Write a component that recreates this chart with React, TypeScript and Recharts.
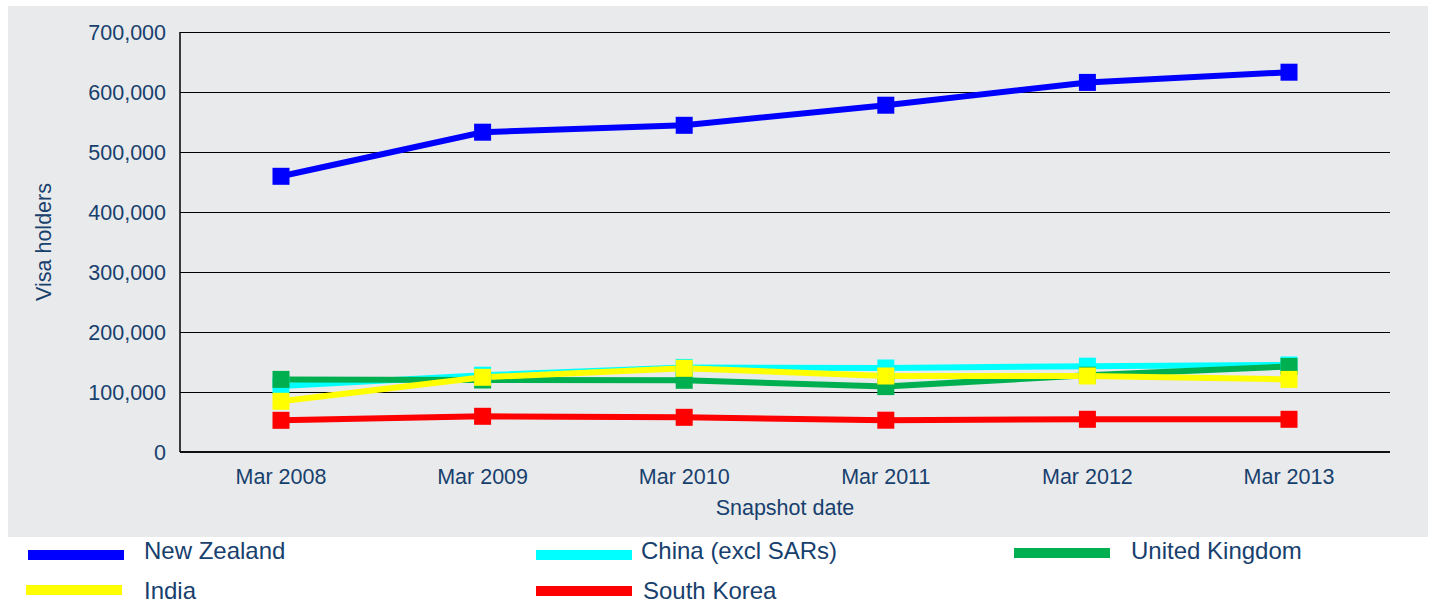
import React from 'react';
import { LineChart, Line, XAxis, YAxis, CartesianGrid } from 'recharts';

const categories = ['Mar 2008', 'Mar 2009', 'Mar 2010', 'Mar 2011', 'Mar 2012', 'Mar 2013'];
const newZealand = [459500, 533000, 544500, 578000, 616000, 633000];
const china = [110000, 128000, 141000, 140000, 143000, 145000];
const unitedKingdom = [121000, 120000, 119500, 109000, 128000, 142500];
const india = [84500, 124500, 139500, 126700, 126700, 121000];
const southKorea = [52800, 59500, 57800, 53000, 54500, 54500];
const yTicks = [0, 100000, 200000, 300000, 400000, 500000, 600000, 700000];

const series = [
  { key: 'nz', name: 'New Zealand', color: '#0000FF', values: newZealand },
  { key: 'cn', name: 'China (excl SARs)', color: '#00FFFF', values: china },
  { key: 'uk', name: 'United Kingdom', color: '#00B050', values: unitedKingdom },
  { key: 'in', name: 'India', color: '#FFFF00', values: india },
  { key: 'kr', name: 'South Korea', color: '#FF0000', values: southKorea },
];

const data = categories.map((c, i) => {
  const row: Record<string, any> = { date: c };
  series.forEach((s) => (row[s.key] = s.values[i]));
  return row;
});

const TEXT = '#17406D';
const FONT = '"Liberation Sans", Arial, sans-serif';

const squareDot = (color: string) => (props: any) => {
  const { cx, cy, index } = props;
  if (cx == null || cy == null) return <g key={index} />;
  return <rect key={index} x={cx - 8.5} y={cy - 8.5} width={17} height={17} fill={color} />;
};

const legendItems = [
  { s: 0, lineX: 28, textX: 144, lineY: 555, textY: 551 },
  { s: 1, lineX: 536, textX: 641, lineY: 555, textY: 551 },
  { s: 2, lineX: 1014, textX: 1131, lineY: 553, textY: 551 },
  { s: 3, lineX: 26, textX: 144, lineY: 590, textY: 591 },
  { s: 4, lineX: 536, textX: 643, lineY: 591, textY: 591 },
];

export default function App() {
  return (
    <div style={{ position: 'absolute', left: 0, top: 0, width: 1431, height: 605, background: '#fff', fontFamily: FONT }}>
      <div style={{ position: 'absolute', left: 8, top: 6, width: 1420, height: 531, background: '#E9EAEC' }} />
      <div style={{ position: 'absolute', left: 0, top: 0 }}>
        <LineChart width={1431} height={605} data={data} margin={{ top: 32, right: 41, left: 0, bottom: 83 }}>
          <CartesianGrid vertical={false} stroke="#000" strokeWidth={1} shapeRendering="crispEdges" />
          <XAxis
            dataKey="date"
            padding={{ left: 101, right: 101 }}
            height={70}
            tickLine={false}
            tickSize={0}
            tickMargin={17}
            axisLine={{ stroke: '#111', strokeWidth: 2 }}
            tick={{ fill: TEXT, fontSize: 21.5, fontFamily: FONT }}
            label={{ value: 'Snapshot date', position: 'insideBottom', offset: 7, fill: TEXT, fontSize: 21.5, fontFamily: FONT }}
          />
          <YAxis
            width={180}
            domain={[0, 700000]}
            ticks={yTicks}
            interval={0}
            tickLine={false}
            tickSize={0}
            tickMargin={14}
            axisLine={{ stroke: '#000', strokeWidth: 1.5 }}
            tickFormatter={(v: number) => v.toLocaleString('en-US')}
            tick={{ fill: TEXT, fontSize: 21.5, fontFamily: FONT }}
            label={{ value: 'Visa holders', angle: -90, position: 'insideLeft', offset: 43, fill: TEXT, fontSize: 21.5, fontFamily: FONT, style: { textAnchor: 'middle' } }}
          />
          <YAxis
            yAxisId="right"
            orientation="right"
            width={0}
            domain={[0, 700000]}
            tick={false}
            tickLine={false}
            axisLine={{ stroke: '#000', strokeWidth: 1.5 }}
          />
          {series.map((s) => (
            <Line
              key={s.key}
              dataKey={s.key}
              name={s.name}
              stroke={s.color}
              strokeWidth={6}
              dot={squareDot(s.color)}
              activeDot={false}
              isAnimationActive={false}
              type="linear"
            />
          ))}
        </LineChart>
      </div>
      {legendItems.map((it) => {
        const s = series[it.s];
        return (
          <React.Fragment key={s.key}>
            <div style={{ position: 'absolute', left: it.lineX, top: it.lineY - 5, width: 96, height: 10, background: s.color }} />
            <div style={{ position: 'absolute', left: it.textX, top: it.textY - 14, height: 28, lineHeight: '28px', fontSize: 24, color: TEXT, whiteSpace: 'nowrap' }}>
              {s.name}
            </div>
          </React.Fragment>
        );
      })}
    </div>
  );
}
